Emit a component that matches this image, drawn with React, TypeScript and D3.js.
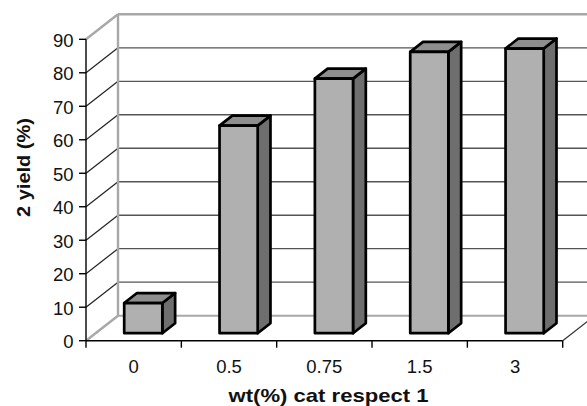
import React from "react";
import * as d3 from "d3";

const categories = ["0", "0.5", "0.75", "1.5", "3"];
const yields = [9, 62, 76, 84, 85];
const yTicks = [0, 10, 20, 30, 40, 50, 60, 70, 80, 90];
const xTitle = "wt(%) cat respect 1";
const yTitle = "2 yield (%)";

const W = 587, H = 406;
const X0 = 86, X1 = 562.7;
const Y0 = 340.7, Y90 = 39.3;
const DX = 32, DY = -25;
const F0 = 0.3, F1 = 0.7;

export default function App() {
  const x = d3.scaleBand<string>().domain(categories).range([X0, X1]).paddingInner(0.6).paddingOuter(0.3);
  const y = d3.scaleLinear().domain([0, 90]).range([Y0, Y90]);
  const step = x.step();
  const bw = x.bandwidth();
  const font = "'Liberation Sans', Arial, sans-serif";
  const lightGray = "#a8a8a8";

  return (
    <svg width={W} height={H} style={{ position: "absolute", left: 0, top: 0, background: "#fff" }}>
      {/* back wall gridlines */}
      {yTicks.slice(1, -1).map((t) => (
        <line key={"g" + t} x1={X0 + DX} x2={W} y1={y(t) + DY} y2={y(t) + DY} stroke="#555" strokeWidth={1.3} />
      ))}
      {/* side wall diagonals */}
      {yTicks.slice(1, -1).map((t) => (
        <line key={"s" + t} x1={X0} x2={X0 + DX} y1={y(t)} y2={y(t) + DY} stroke="#222" strokeWidth={1.2} />
      ))}
      {/* back wall outline */}
      <line x1={X0 + DX} x2={W} y1={y(90) + DY} y2={y(90) + DY} stroke={lightGray} strokeWidth={2.4} />
      <line x1={X0 + DX} x2={X0 + DX} y1={y(90) + DY} y2={y(0) + DY} stroke={lightGray} strokeWidth={2.4} />
      <line x1={X0} x2={X0 + DX} y1={y(90)} y2={y(90) + DY} stroke={lightGray} strokeWidth={2.4} />
      <line x1={X0} x2={X0 + DX} y1={y(0)} y2={y(0) + DY} stroke={lightGray} strokeWidth={2.4} />
      <line x1={X0 + DX} x2={W} y1={y(0) + DY} y2={y(0) + DY} stroke={lightGray} strokeWidth={2} />
      {/* floor right edge */}
      <line x1={X1} x2={X1 + DX} y1={y(0)} y2={y(0) + DY} stroke="#333" strokeWidth={1.2} />
      {/* bars */}
      {categories.map((c, i) => {
        const xl = (x(c) as number) + F0 * DX;
        const xr = xl + bw;
        const yb = y(0) + F0 * DY;
        const yt = y(yields[i]) + F0 * DY;
        const ddx = (F1 - F0) * DX;
        const ddy = (F1 - F0) * DY;
        return (
          <g key={c} stroke="#000" strokeWidth={2.7} strokeLinejoin="round">
            <polygon points={`${xr},${yt} ${xr + ddx},${yt + ddy} ${xr + ddx},${yb + ddy} ${xr},${yb}`} fill="#6e6e6e" />
            <polygon points={`${xl},${yt} ${xl + ddx},${yt + ddy} ${xr + ddx},${yt + ddy} ${xr},${yt}`} fill="#8e8e8e" />
            <rect x={xl} y={yt} width={bw} height={yb - yt} fill="#b0b0b0" />
          </g>
        );
      })}
      {/* y axis */}
      <line x1={X0} x2={X0} y1={y(90)} y2={y(0)} stroke="#000" strokeWidth={1.4} />
      {yTicks.map((t) => (
        <g key={"t" + t}>
          <line x1={X0 - 7} x2={X0} y1={y(t)} y2={y(t)} stroke="#000" strokeWidth={1.4} />
          <text x={X0 - 12.5} y={y(t) + 7.5} textAnchor="end" fontFamily={font} fontSize={18.5} fill="#111">{t}</text>
        </g>
      ))}
      {/* x axis */}
      <line x1={X0} x2={X1} y1={y(0)} y2={y(0)} stroke="#000" strokeWidth={1.4} />
      {d3.range(categories.length + 1).map((k) => (
        <line key={"xt" + k} x1={X0 + k * step} x2={X0 + k * step} y1={y(0)} y2={y(0) + 7} stroke="#000" strokeWidth={1.4} />
      ))}
      {categories.map((c) => (
        <text key={"xl" + c} x={(x(c) as number) + bw / 2} y={372.5} textAnchor="middle" fontFamily={font} fontSize={18.5} fill="#111">{c}</text>
      ))}
      <text x={328.5} y={402} textAnchor="middle" fontFamily={font} fontSize={18.5} fontWeight="bold" textLength={200} lengthAdjust="spacingAndGlyphs" fill="#111">{xTitle}</text>
      <text transform={`translate(30,167.5) rotate(-90)`} textAnchor="middle" fontFamily={font} fontSize={18.5} fontWeight="bold" textLength={99} lengthAdjust="spacingAndGlyphs" fill="#111">{yTitle}</text>
    </svg>
  );
}
